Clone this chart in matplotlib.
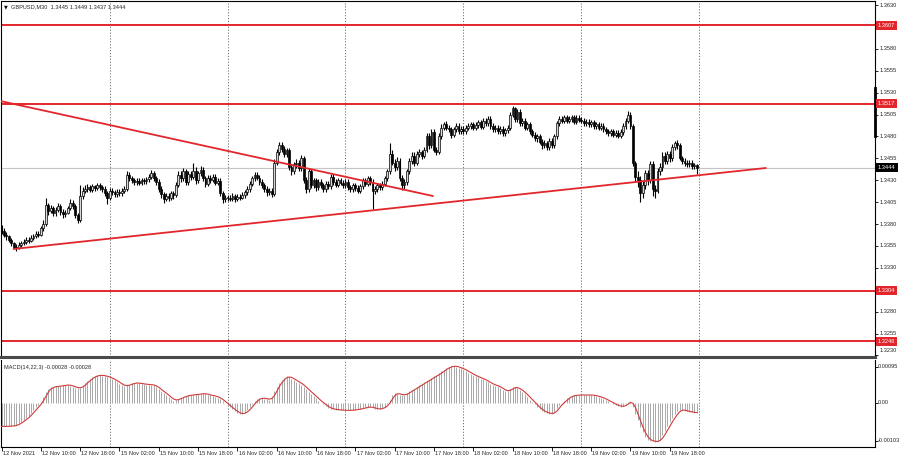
import numpy as np
import matplotlib
matplotlib.use("Agg")
import matplotlib.pyplot as plt
from matplotlib.transforms import blended_transform_factory

plt.rcParams['font.family'] = ['Liberation Sans', 'DejaVu Sans']

# ---------------- data ----------------
title_text = "GBPUSD,M30  1.3445 1.3449 1.3437 1.3444"
macd_label = "MACD(14,22,3) -0.00028 -0.00028"

first_open = 1.3376
close = [
    1.3372, 1.3368, 1.3366, 1.3362, 1.3358, 1.3354, 1.3353, 1.3356, 1.3358, 1.3360,
    1.3362, 1.3361, 1.3364, 1.3366, 1.3369, 1.3368, 1.3375, 1.3380, 1.3402, 1.3395,
    1.3398, 1.3392, 1.3396, 1.3400, 1.3394, 1.3391, 1.3393, 1.3398, 1.3404, 1.3400,
    1.3390, 1.3384, 1.3412, 1.3418, 1.3420, 1.3422, 1.3419, 1.3423, 1.3421, 1.3424,
    1.3422, 1.3420, 1.3415, 1.3410, 1.3418, 1.3416, 1.3414, 1.3417, 1.3415, 1.3418,
    1.3420, 1.3436, 1.3432, 1.3430, 1.3428, 1.3429, 1.3427, 1.3430, 1.3429, 1.3431,
    1.3434, 1.3438, 1.3432, 1.3428, 1.3420, 1.3414, 1.3409, 1.3412, 1.3410, 1.3415,
    1.3413, 1.3425, 1.3436, 1.3432, 1.3440, 1.3428, 1.3437, 1.3434, 1.3441, 1.3430,
    1.3438, 1.3442, 1.3432, 1.3426, 1.3433, 1.3430, 1.3434, 1.3427, 1.3429, 1.3415,
    1.3408, 1.3410, 1.3410, 1.3409, 1.3412, 1.3408, 1.3411, 1.3410, 1.3413, 1.3416,
    1.3420, 1.3426, 1.3432, 1.3436, 1.3433, 1.3428, 1.3424, 1.3420, 1.3416, 1.3418,
    1.3414, 1.3450, 1.3462, 1.3470, 1.3466, 1.3460, 1.3464, 1.3445, 1.3440, 1.3448,
    1.3450, 1.3444, 1.3455, 1.3430, 1.3420, 1.3440, 1.3425, 1.3430, 1.3422, 1.3428,
    1.3424, 1.3420, 1.3426, 1.3423, 1.3434, 1.3428, 1.3425, 1.3430, 1.3427, 1.3424,
    1.3428, 1.3422, 1.3420, 1.3424, 1.3421, 1.3418, 1.3423, 1.3430, 1.3426, 1.3432,
    1.3428, 1.3418, 1.3420, 1.3424, 1.3422, 1.3426, 1.3432, 1.3440, 1.3460, 1.3450,
    1.3445, 1.3452, 1.3432, 1.3425, 1.3428, 1.3440, 1.3452, 1.3458, 1.3450, 1.3460,
    1.3462, 1.3458, 1.3465, 1.3480, 1.3470, 1.3485, 1.3465, 1.3462, 1.3480, 1.3490,
    1.3494, 1.3490, 1.3488, 1.3482, 1.3488, 1.3492, 1.3486, 1.3489, 1.3486, 1.3490,
    1.3492, 1.3494, 1.3490, 1.3493, 1.3496, 1.3491, 1.3498, 1.3495, 1.3500, 1.3492,
    1.3488, 1.3490, 1.3486, 1.3489, 1.3484, 1.3487, 1.3490, 1.3505, 1.3512, 1.3500,
    1.3508, 1.3495, 1.3498, 1.3490, 1.3494, 1.3486, 1.3482, 1.3478, 1.3480, 1.3474,
    1.3470, 1.3472, 1.3468, 1.3475, 1.3470, 1.3480, 1.3495, 1.3500, 1.3498, 1.3502,
    1.3498, 1.3500, 1.3502, 1.3497, 1.3501, 1.3499, 1.3498, 1.3495, 1.3497, 1.3494,
    1.3496, 1.3492, 1.3494, 1.3490, 1.3492, 1.3488, 1.3486, 1.3484, 1.3486, 1.3482,
    1.3484, 1.3481, 1.3485, 1.3492, 1.3498, 1.3505, 1.3492, 1.3450, 1.3434, 1.3430,
    1.3415, 1.3425, 1.3438, 1.3430, 1.3448, 1.3420, 1.3418, 1.3440, 1.3445, 1.3458,
    1.3452, 1.3460, 1.3455, 1.3468, 1.3472, 1.3470, 1.3455, 1.3452, 1.3450, 1.3448,
    1.3450, 1.3446, 1.3447, 1.3444,
]
high = [
    1.3379, 1.3375, 1.3371, 1.3368, 1.3364, 1.3360, 1.3357, 1.3359, 1.3361, 1.3363,
    1.3365, 1.3365, 1.3367, 1.3369, 1.3372, 1.3372, 1.3378, 1.3384, 1.3410, 1.3404,
    1.3402, 1.3401, 1.3399, 1.3404, 1.3403, 1.3397, 1.3396, 1.3401, 1.3408, 1.3407,
    1.3403, 1.3393, 1.3425, 1.3422, 1.3424, 1.3426, 1.3425, 1.3426, 1.3425, 1.3427,
    1.3427, 1.3425, 1.3423, 1.3418, 1.3421, 1.3421, 1.3419, 1.3420, 1.3420, 1.3421,
    1.3423, 1.3440, 1.3439, 1.3435, 1.3433, 1.3432, 1.3432, 1.3433, 1.3432, 1.3434,
    1.3437, 1.3442, 1.3441, 1.3435, 1.3431, 1.3423, 1.3417, 1.3415, 1.3415, 1.3418,
    1.3418, 1.3428, 1.3440, 1.3440, 1.3444, 1.3443, 1.3440, 1.3440, 1.3450, 1.3445,
    1.3441, 1.3446, 1.3445, 1.3435, 1.3436, 1.3436, 1.3437, 1.3437, 1.3432, 1.3432,
    1.3418, 1.3413, 1.3413, 1.3413, 1.3415, 1.3414, 1.3414, 1.3414, 1.3416, 1.3419,
    1.3423, 1.3429, 1.3435, 1.3439, 1.3439, 1.3436, 1.3431, 1.3427, 1.3423, 1.3421,
    1.3421, 1.3454, 1.3466, 1.3474, 1.3474, 1.3469, 1.3467, 1.3467, 1.3449, 1.3451,
    1.3454, 1.3453, 1.3459, 1.3458, 1.3434, 1.3444, 1.3443, 1.3433, 1.3433, 1.3431,
    1.3431, 1.3427, 1.3429, 1.3429, 1.3437, 1.3437, 1.3431, 1.3433, 1.3433, 1.3430,
    1.3431, 1.3431, 1.3425, 1.3427, 1.3427, 1.3424, 1.3426, 1.3433, 1.3433, 1.3435,
    1.3435, 1.3431, 1.3423, 1.3427, 1.3427, 1.3429, 1.3435, 1.3443, 1.3472, 1.3464,
    1.3454, 1.3456, 1.3455, 1.3436, 1.3431, 1.3443, 1.3455, 1.3462, 1.3462, 1.3463,
    1.3466, 1.3465, 1.3468, 1.3484, 1.3484, 1.3488, 1.3488, 1.3468, 1.3484, 1.3494,
    1.3497, 1.3498, 1.3493, 1.3491, 1.3491, 1.3495, 1.3495, 1.3492, 1.3492, 1.3493,
    1.3495, 1.3497, 1.3497, 1.3496, 1.3499, 1.3499, 1.3501, 1.3501, 1.3503, 1.3503,
    1.3495, 1.3493, 1.3493, 1.3492, 1.3492, 1.3490, 1.3493, 1.3508, 1.3515, 1.3514,
    1.3511, 1.3511, 1.3501, 1.3501, 1.3497, 1.3497, 1.3489, 1.3485, 1.3483, 1.3483,
    1.3477, 1.3476, 1.3475, 1.3478, 1.3478, 1.3483, 1.3498, 1.3503, 1.3503, 1.3505,
    1.3505, 1.3503, 1.3505, 1.3505, 1.3504, 1.3504, 1.3502, 1.3501, 1.3500, 1.3500,
    1.3499, 1.3499, 1.3497, 1.3497, 1.3495, 1.3495, 1.3491, 1.3489, 1.3489, 1.3489,
    1.3487, 1.3487, 1.3488, 1.3495, 1.3501, 1.3509, 1.3508, 1.3494, 1.3452, 1.3440,
    1.3435, 1.3430, 1.3442, 1.3442, 1.3452, 1.3452, 1.3425, 1.3444, 1.3450, 1.3462,
    1.3462, 1.3463, 1.3463, 1.3471, 1.3475, 1.3476, 1.3473, 1.3458, 1.3455, 1.3453,
    1.3453, 1.3453, 1.3450, 1.3449,
]
low = [
    1.3369, 1.3365, 1.3362, 1.3359, 1.3355, 1.3351, 1.3349, 1.3351, 1.3354, 1.3356,
    1.3357, 1.3358, 1.3359, 1.3362, 1.3364, 1.3365, 1.3366, 1.3372, 1.3378, 1.3390,
    1.3392, 1.3389, 1.3389, 1.3394, 1.3390, 1.3387, 1.3388, 1.3391, 1.3396, 1.3397,
    1.3387, 1.3381, 1.3382, 1.3409, 1.3415, 1.3417, 1.3416, 1.3416, 1.3418, 1.3419,
    1.3419, 1.3417, 1.3412, 1.3403, 1.3407, 1.3413, 1.3411, 1.3411, 1.3412, 1.3412,
    1.3415, 1.3418, 1.3429, 1.3427, 1.3425, 1.3425, 1.3424, 1.3425, 1.3426, 1.3426,
    1.3428, 1.3431, 1.3429, 1.3425, 1.3416, 1.3410, 1.3404, 1.3406, 1.3406, 1.3407,
    1.3409, 1.3411, 1.3422, 1.3428, 1.3429, 1.3424, 1.3425, 1.3430, 1.3431, 1.3426,
    1.3427, 1.3435, 1.3429, 1.3422, 1.3423, 1.3427, 1.3428, 1.3424, 1.3424, 1.3412,
    1.3404, 1.3405, 1.3406, 1.3406, 1.3406, 1.3405, 1.3406, 1.3407, 1.3408, 1.3410,
    1.3413, 1.3417, 1.3423, 1.3429, 1.3430, 1.3425, 1.3421, 1.3417, 1.3412, 1.3413,
    1.3411, 1.3412, 1.3447, 1.3459, 1.3462, 1.3456, 1.3457, 1.3442, 1.3436, 1.3437,
    1.3444, 1.3441, 1.3441, 1.3427, 1.3415, 1.3416, 1.3421, 1.3421, 1.3418, 1.3419,
    1.3421, 1.3417, 1.3417, 1.3420, 1.3420, 1.3425, 1.3422, 1.3422, 1.3424, 1.3421,
    1.3421, 1.3419, 1.3417, 1.3417, 1.3418, 1.3415, 1.3415, 1.3420, 1.3423, 1.3423,
    1.3425, 1.3397, 1.3414, 1.3417, 1.3419, 1.3419, 1.3423, 1.3429, 1.3437, 1.3447,
    1.3441, 1.3442, 1.3429, 1.3419, 1.3420, 1.3424, 1.3437, 1.3448, 1.3446, 1.3447,
    1.3456, 1.3454, 1.3455, 1.3462, 1.3466, 1.3467, 1.3462, 1.3459, 1.3460, 1.3477,
    1.3487, 1.3487, 1.3485, 1.3478, 1.3479, 1.3485, 1.3483, 1.3483, 1.3483, 1.3483,
    1.3487, 1.3489, 1.3487, 1.3487, 1.3490, 1.3488, 1.3488, 1.3492, 1.3492, 1.3489,
    1.3485, 1.3485, 1.3483, 1.3483, 1.3481, 1.3481, 1.3484, 1.3487, 1.3502, 1.3497,
    1.3497, 1.3492, 1.3492, 1.3487, 1.3487, 1.3483, 1.3479, 1.3475, 1.3474, 1.3471,
    1.3466, 1.3467, 1.3465, 1.3465, 1.3467, 1.3467, 1.3477, 1.3492, 1.3495, 1.3495,
    1.3495, 1.3495, 1.3497, 1.3494, 1.3494, 1.3496, 1.3495, 1.3492, 1.3492, 1.3491,
    1.3491, 1.3489, 1.3489, 1.3487, 1.3487, 1.3485, 1.3483, 1.3481, 1.3481, 1.3479,
    1.3479, 1.3478, 1.3478, 1.3482, 1.3489, 1.3495, 1.3488, 1.3446, 1.3428, 1.3422,
    1.3405, 1.3410, 1.3420, 1.3425, 1.3427, 1.3412, 1.3410, 1.3415, 1.3436, 1.3440,
    1.3448, 1.3449, 1.3451, 1.3452, 1.3464, 1.3466, 1.3453, 1.3448, 1.3446, 1.3445,
    1.3445, 1.3443, 1.3443, 1.3437,
]
macd_main = [
    -0.00064, -0.00064, -0.00064, -0.00063, -0.00063, -0.00062, -0.00060, -0.00056, -0.00051, -0.00047,
    -0.00041, -0.00036, -0.00028, -0.00020, -0.00013, -0.00006, 0.00002, 0.00015, 0.00029, 0.00036,
    0.00041, 0.00042, 0.00043, 0.00044, 0.00044, 0.00046, 0.00047, 0.00047, 0.00045, 0.00042,
    0.00040, 0.00038, 0.00040, 0.00046, 0.00052, 0.00058, 0.00064, 0.00068, 0.00071, 0.00073,
    0.00073, 0.00072, 0.00071, 0.00068, 0.00066, 0.00063, 0.00059, 0.00055, 0.00050, 0.00046,
    0.00044, 0.00046, 0.00048, 0.00051, 0.00053, 0.00052, 0.00051, 0.00050, 0.00049, 0.00048,
    0.00048, 0.00047, 0.00046, 0.00041, 0.00035, 0.00031, 0.00026, 0.00020, 0.00015, 0.00009,
    0.00005, 0.00007, 0.00010, 0.00013, 0.00016, 0.00018, 0.00019, 0.00020, 0.00021, 0.00022,
    0.00022, 0.00023, 0.00025, 0.00022, 0.00020, 0.00019, 0.00018, 0.00016, 0.00013, 0.00009,
    0.00004, -0.00002, -0.00008, -0.00013, -0.00018, -0.00024, -0.00028, -0.00030, -0.00030, -0.00027,
    -0.00020, -0.00013, -0.00005, 0.00004, 0.00009, 0.00012, 0.00012, 0.00010, 0.00009, 0.00008,
    0.00015, 0.00030, 0.00042, 0.00053, 0.00061, 0.00066, 0.00070, 0.00068, 0.00064, 0.00060,
    0.00056, 0.00052, 0.00048, 0.00042, 0.00035, 0.00029, 0.00024, 0.00018, 0.00011, 0.00005,
    0.00000, -0.00005, -0.00010, -0.00015, -0.00017, -0.00018, -0.00019, -0.00020, -0.00020, -0.00021,
    -0.00021, -0.00021, -0.00021, -0.00020, -0.00019, -0.00018, -0.00017, -0.00015, -0.00013, -0.00012,
    -0.00012, -0.00014, -0.00017, -0.00018, -0.00017, -0.00014, -0.00011, -0.00004, 0.00008, 0.00020,
    0.00025, 0.00024, 0.00021, 0.00020, 0.00021, 0.00025, 0.00030, 0.00033, 0.00037, 0.00042,
    0.00046, 0.00050, 0.00054, 0.00058, 0.00061, 0.00066, 0.00070, 0.00073, 0.00078, 0.00083,
    0.00088, 0.00092, 0.00095, 0.00097, 0.00098, 0.00096, 0.00093, 0.00091, 0.00088, 0.00084,
    0.00080, 0.00076, 0.00073, 0.00070, 0.00067, 0.00064, 0.00062, 0.00058, 0.00054, 0.00050,
    0.00047, 0.00045, 0.00043, 0.00039, 0.00034, 0.00030, 0.00031, 0.00036, 0.00041, 0.00041,
    0.00038, 0.00033, 0.00029, 0.00022, 0.00015, 0.00008, 0.00002, -0.00005, -0.00012, -0.00018,
    -0.00023, -0.00026, -0.00028, -0.00030, -0.00030, -0.00025, -0.00015, -0.00006, -0.00001, 0.00005,
    0.00011, 0.00016, 0.00018, 0.00019, 0.00020, 0.00020, 0.00020, 0.00020, 0.00020, 0.00020,
    0.00020, 0.00019, 0.00017, 0.00015, 0.00013, 0.00010, 0.00007, 0.00003, -0.00001, -0.00004,
    -0.00007, -0.00010, -0.00011, -0.00010, -0.00005, 0.00001, 0.00004, -0.00012, -0.00030, -0.00048,
    -0.00066, -0.00080, -0.00092, -0.00100, -0.00102, -0.00104, -0.00105, -0.00104, -0.00097, -0.00087,
    -0.00075, -0.00063, -0.00053, -0.00042, -0.00032, -0.00024, -0.00019, -0.00020, -0.00022, -0.00024,
    -0.00025, -0.00026, -0.00027, -0.00028,
]

time_label_idx = [0, 16, 32, 48, 64, 80, 96, 112, 128, 144, 160, 176, 192, 208, 224, 240, 256, 272]
time_labels = ["12 Nov 2021", "12 Nov 10:00", "12 Nov 18:00", "15 Nov 02:00", "15 Nov 10:00",
               "15 Nov 18:00", "16 Nov 02:00", "16 Nov 10:00", "16 Nov 18:00", "17 Nov 02:00",
               "17 Nov 10:00", "17 Nov 18:00", "18 Nov 02:00", "18 Nov 10:00", "18 Nov 18:00",
               "19 Nov 02:00", "19 Nov 10:00", "19 Nov 18:00"]
day_grid_idx = [44, 92, 140, 188, 236, 284]

price_ticks = [1.3630, 1.3605, 1.3580, 1.3555, 1.3530, 1.3505, 1.3480, 1.3455, 1.3430,
               1.3405, 1.3380, 1.3355, 1.3330, 1.3305, 1.3280, 1.3255, 1.3230]
price_tick_labels = ["1.3630", "", "1.3580", "1.3555", "1.3530", "1.3505", "1.3480", "1.3455",
                     "1.3430", "1.3405", "1.3380", "1.3355", "1.3330", "", "1.3280", "1.3255", "1.3230"]
level_prices = [1.3607, 1.3517, 1.3304, 1.3246]
level_labels = ["1.3607", "1.3517", "1.3304", "1.3246"]
current_price = 1.3444
scroll_marker = [1.3535, 1.3481]

trend_up_idx = [5.0, 311.0]
trend_up_price = [1.33515, 1.34439]
trend_down_idx = [-0.5, 175.5]
trend_down_price = [1.35204, 1.34120]

macd_ticks = [0.00095, 0.0, -0.00103]
macd_tick_labels = ["0.00095", "0.00", "-0.00103"]

# ---------------- figure ----------------
W, H = 900, 461
fig = plt.figure(figsize=(W / 100, H / 100), dpi=100)
fig.patch.set_facecolor('white')

def fx(px):
    return px / W

def fy(py):
    return 1 - py / H

left_px, right_px = 1, 875
main_top, main_bot = 1, 357
macd_top, macd_bot = 360, 447

ax = fig.add_axes([fx(left_px), fy(main_bot), fx(right_px - left_px), (main_bot - main_top) / H])
ax2 = fig.add_axes([fx(left_px), fy(macd_bot), fx(right_px - left_px), (macd_bot - macd_top) / H], sharex=ax)

n = min(len(close), len(high), len(low), len(macd_main))
idx = np.arange(n)
c = np.array(close[:n])
o = np.concatenate([[first_open], c[:-1]])
h = np.array(high[:n])
l = np.array(low[:n])

px_per_bar = 2.457
x0_px = 1.5
ax.set_xlim((left_px - x0_px) / px_per_bar, (right_px - x0_px) / px_per_bar)
ax.set_ylim(1.3630 - (main_bot - 5) / 8760, 1.3630 + (5 - main_top) / 8760)

red = '#e3262b'
fs = 4.1
txt_col = '#262626'

# horizontal levels
for p in level_prices:
    ax.axhline(p, color=red, lw=1.4, zorder=2)
ax.axhline(current_price, color='#c4c4c4', lw=0.8, zorder=1)

# day separators
for d in day_grid_idx:
    ax.axvline(d, color='#6e6e6e', lw=0.7, ls=(0, (1.2, 1.8)), zorder=1)
    ax2.axvline(d, color='#6e6e6e', lw=0.7, ls=(0, (1.2, 1.8)), zorder=1)

# candles
ax.vlines(idx, l, h, color='black', lw=0.8, zorder=3)
up = c >= o
body_h = np.maximum(np.abs(c - o), 0.00003)
body_b = np.minimum(o, c)
ax.bar(idx[up], body_h[up], bottom=body_b[up], width=0.75, facecolor='#d8d8d8',
       edgecolor='black', linewidth=0.5, zorder=4)
ax.bar(idx[~up], body_h[~up], bottom=body_b[~up], width=0.75, facecolor='black',
       edgecolor='black', linewidth=0.5, zorder=4)

# trend lines
ax.plot(trend_up_idx, trend_up_price, color=red, lw=1.3, zorder=5)
ax.plot(trend_down_idx, trend_down_price, color=red, lw=1.3, zorder=5)

# price axis
ax.yaxis.tick_right()
ax.set_yticks(price_ticks)
ax.set_yticklabels([])
ax.tick_params(axis='y', direction='out', length=2.5, width=0.6, colors='black')
ax.tick_params(axis='x', length=0, labelbottom=False)
tr = blended_transform_factory(ax.transAxes, ax.transData)
for p, lab in zip(price_ticks, price_tick_labels):
    if lab:
        yy = p
        if p == price_ticks[-1]:
            yy = p + 5 / 8760
        ax.text(1.0055, yy, lab, transform=tr, fontsize=fs, color=txt_col,
                ha='left', va='center', clip_on=False)
for p, lab in zip(level_prices, level_labels):
    ax.text(1.0035, p, lab, transform=tr, fontsize=fs, color='white', ha='left', va='center',
            clip_on=False, zorder=10,
            bbox=dict(boxstyle='square,pad=0.35', fc=red, ec='none'))
ax.text(1.0035, current_price, "1.3444", transform=tr, fontsize=fs, color='white', ha='left',
        va='center', clip_on=False, zorder=10,
        bbox=dict(boxstyle='square,pad=0.35', fc='black', ec='none'))
ax.plot([1.0, 1.0], scroll_marker, transform=tr, color='black', lw=2.0, clip_on=False, zorder=9)

for s in ['left', 'top', 'right']:
    ax.spines[s].set_color('black')
    ax.spines[s].set_linewidth(0.8)
ax.spines['bottom'].set_color('#4a4a4a')
ax.spines['bottom'].set_linewidth(2.2)

fig.text(fx(4), fy(7), "\u25bc", fontsize=3.5, color='black', ha='left', va='center',
         family='DejaVu Sans')
fig.text(fx(11), fy(7), title_text, fontsize=fs, color=txt_col, ha='left', va='center')

# ---------------- MACD ----------------
m = np.array(macd_main[:n])
sig = np.convolve(m, np.ones(3) / 3, mode='full')[:n]
sig[:2] = m[:2]
ax2.vlines(idx, 0, m, color='#a8a8a8', lw=0.7, zorder=2)
ax2.plot(idx, sig, color='#d23a3a', lw=0.8, zorder=3)
ax2.set_ylim(-44.5 / 37374, 0.00095 + 7 / 37374)
ax2.yaxis.tick_right()
ax2.set_yticks(macd_ticks)
ax2.set_yticklabels([])
ax2.tick_params(axis='y', direction='out', length=2.5, width=0.6)
tr2 = blended_transform_factory(ax2.transAxes, ax2.transData)
for v, lab in zip(macd_ticks, macd_tick_labels):
    ax2.text(1.003, v, lab, transform=tr2, fontsize=fs, color=txt_col, ha='left',
             va='center', clip_on=False)
ax2.text(0.003, 0.91, macd_label, transform=ax2.transAxes, fontsize=fs, color=txt_col,
         ha='left', va='center')
for s in ['left', 'right', 'bottom']:
    ax2.spines[s].set_color('black')
    ax2.spines[s].set_linewidth(0.8)
ax2.spines['top'].set_visible(False)

ax2.set_xticks(time_label_idx)
ax2.set_xticklabels([])
ax2.tick_params(axis='x', direction='out', length=3, width=0.6)
trx = blended_transform_factory(ax2.transData, fig.transFigure)
for i, lab in zip(time_label_idx, time_labels):
    ax2.text(i + 0.5, fy(453.5), lab, transform=trx, fontsize=fs, color=txt_col,
             ha='left', va='center', clip_on=False)

fig.savefig('out.png', dpi=100, facecolor='white')
